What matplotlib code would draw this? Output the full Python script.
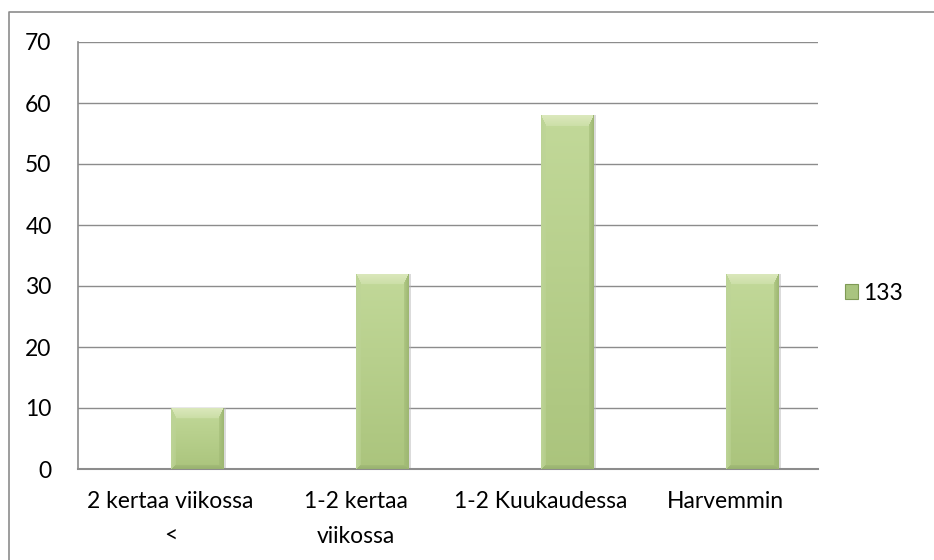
import numpy as np
import matplotlib
matplotlib.use("Agg")
import matplotlib.pyplot as plt
from matplotlib.patches import Rectangle
from matplotlib.lines import Line2D

categories = ["2 kertaa viikossa\n<", "1-2 kertaa\nviikossa", "1-2 Kuukaudessa", "Harvemmin"]
values = [10, 32, 58, 32]
series_name = "133"
y_ticks = [0, 10, 20, 30, 40, 50, 60, 70]

W, H = 934, 560
plt.rcParams["font.family"] = ["Lato", "DejaVu Sans"]
FS = 16.5

fig = plt.figure(figsize=(W / 100, H / 100), dpi=100)
ax = fig.add_axes([78 / W, 1 - 469 / H, (818 - 78) / W, (469 - 42) / H])

# outer chart border (only top and left visible)
fig.add_artist(Line2D([9 / W, 9 / W, 1], [0, 1 - 12 / H, 1 - 12 / H],
                      transform=fig.transFigure, color="#8c8c8c", lw=1.2))

ax.set_xlim(0, len(categories))
ax.set_ylim(0, 70)
ax.set_yticks(y_ticks)
ax.yaxis.grid(True, color="#8c8c8c", lw=1.0)
ax.set_axisbelow(True)
for s in ["top", "right"]:
    ax.spines[s].set_visible(False)
ax.spines["left"].set_color("#8c8c8c")
ax.spines["bottom"].set_color("#8c8c8c")
ax.spines["left"].set_linewidth(1.2)
ax.spines["bottom"].set_linewidth(1.5)
ax.tick_params(axis="both", length=0, labelsize=FS, colors="black")
ax.tick_params(axis="y", pad=19)
ax.tick_params(axis="x", pad=16)
ax.set_xticks(np.arange(len(categories)) + 0.5)
ax.set_xticklabels(categories, linespacing=1.8)


def bevel_image(wpx, hpx):
    top_c = np.array([0.86, 0.91, 0.74])
    face_top = np.array([0.76, 0.85, 0.60])
    face_bot = np.array([0.67, 0.77, 0.49])
    side_l = np.array([0.74, 0.83, 0.59])
    side_r = np.array([0.62, 0.72, 0.45])
    bot_c = np.array([0.60, 0.70, 0.44])
    yy, xx = np.mgrid[0:hpx, 0:wpx]
    t = yy / max(hpx - 1, 1)
    img = face_top[None, None, :] * (1 - t[..., None]) + face_bot[None, None, :] * t[..., None]
    dl, dr, dt, db = xx, wpx - 1 - xx, yy, hpx - 1 - yy
    bt, bs, bb = 11, 5, 4
    rel = np.stack([dl / bs, dr / bs, dt / bt, db / bb])
    m = rel.min(axis=0)
    which = rel.argmin(axis=0)
    cols = [side_l, side_r, top_c, bot_c]
    for k in range(4):
        sel = (m < 1) & (which == k)
        w = (1 - m[sel])[:, None] * 0.6 + 0.4
        img[sel] = cols[k] * w + img[sel] * (1 - w)
    return np.clip(img, 0, 1)


bw = 53 / 185
bars = ax.bar(np.arange(len(categories)) + 0.5, values, width=bw, align="edge",
              color="#a9c47f", edgecolor="none", zorder=2, label=series_name)
ppd_y = (469 - 42) / 70
for b, v in zip(bars, values):
    x0 = b.get_x()
    hpx = int(round(v * ppd_y))
    img = bevel_image(53, hpx)
    im = ax.imshow(img, extent=[x0, x0 + bw, 0, v], aspect="auto", zorder=3,
                   interpolation="bilinear")
    im.set_clip_path(b)
    # soft shadow on the right
    ax.add_patch(Rectangle((x0 + bw, 0), 0.012, v, color="#b8b8b8", alpha=0.5,
                           lw=0, zorder=1.5))

ax.set_xlim(0, len(categories))
ax.set_ylim(0, 70)

handle = Rectangle((0, 0), 1, 1, facecolor="#a9c47f", edgecolor="#7f9a55", lw=0.8)
fig.legend([handle], [series_name], loc="center left",
           bbox_to_anchor=(824 / W, 1 - 293 / H), frameon=False, fontsize=FS,
           handlelength=0.6, handleheight=0.6, handletextpad=0.2)

fig.savefig("out.png", dpi=100)
